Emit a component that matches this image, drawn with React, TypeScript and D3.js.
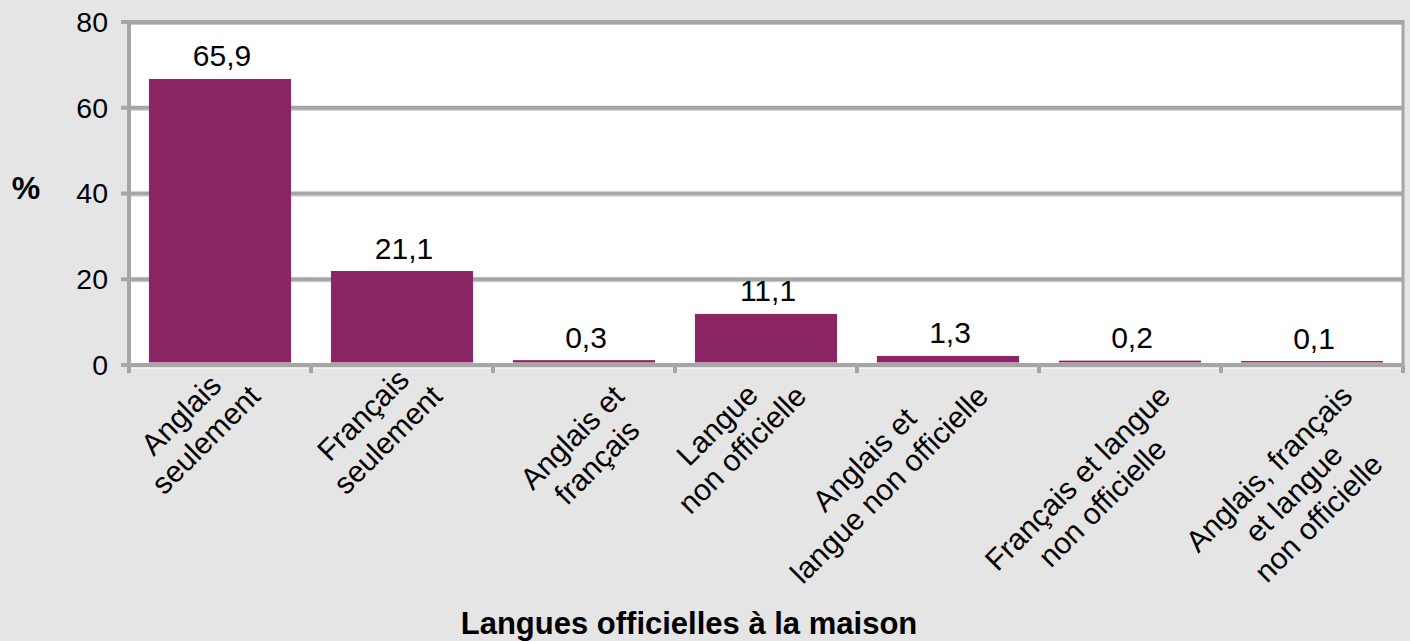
import * as React from 'react';
import * as d3 from 'd3';

// categories (each entry = lines of the wrapped label)
const categories: string[][] = [
    ['Anglais', 'seulement'],
    ['Français', 'seulement'],
    ['Anglais et', 'français'],
    ['Langue', 'non officielle'],
    ['Anglais et', 'langue non officielle'],
    ['Français et langue', 'non officielle'],
    ['Anglais, français', 'et langue', 'non officielle'],
];
const values: number[] = [65.9, 21.1, 0.3, 11.1, 1.3, 0.2, 0.1];
const yTicks: number[] = [0, 20, 40, 60, 80];
const yLabel = '%';
const xTitle = 'Langues officielles à la maison';

const W = 1410;
const H = 641;
const FONT = '"Liberation Sans", Arial, Helvetica, sans-serif';

export default function App() {
    const ref = React.useRef<SVGSVGElement>(null);

    React.useEffect(() => {
        const svg = d3.select(ref.current);
        svg.selectAll('*').remove();

        const left = 129, right = 1403, top = 22, bottom = 365;
        const grid = '#a6a6a6';
        const fr = d3.formatLocale({ decimal: ',', thousands: ' ', grouping: [3], currency: ['', ''] });
        const fmt = fr.format('.1f');

        const x = d3.scaleBand<number>()
            .domain(d3.range(categories.length))
            .range([left, right])
            .paddingInner(0.219)
            .paddingOuter(0.1095);
        const y = d3.scaleLinear().domain([0, 80]).range([bottom, top]);

        svg.append('rect').attr('width', W).attr('height', H).attr('fill', '#e5e5e5');
        svg.append('rect')
            .attr('x', left).attr('y', top)
            .attr('width', right - left).attr('height', bottom - top)
            .attr('fill', '#fff');

        // gridlines (grey with a lighter lower edge)
        const gl = svg.append('g');
        gl.selectAll('line.lo')
            .data(yTicks.filter(t => t > 0))
            .join('line')
            .attr('class', 'lo')
            .attr('x1', left).attr('x2', right)
            .attr('y1', d => y(d) + 2.5).attr('y2', d => y(d) + 2.5)
            .attr('stroke', '#c8c8c8').attr('stroke-width', 1);
        gl.selectAll('line.hi')
            .data(yTicks.filter(t => t > 0))
            .join('line')
            .attr('class', 'hi')
            .attr('x1', left).attr('x2', right)
            .attr('y1', d => y(d)).attr('y2', d => y(d))
            .attr('stroke', grid).attr('stroke-width', 4);

        // right border
        svg.append('line')
            .attr('x1', right).attr('x2', right).attr('y1', top - 2).attr('y2', bottom)
            .attr('stroke', grid).attr('stroke-width', 3);

        // bars
        const barOff = 3;
        svg.append('g').selectAll('rect')
            .data(values)
            .join('rect')
            .attr('x', (d, i) => (x(i) as number) + 0.5)
            .attr('y', d => y(d) - barOff)
            .attr('width', x.bandwidth() - 1)
            .attr('height', d => y(0) - y(d))
            .attr('fill', '#8a2463')
            .attr('stroke', '#8a2463')
            .attr('stroke-width', 1);

        // value labels
        svg.append('g').selectAll('text')
            .data(values)
            .join('text')
            .attr('x', (d, i) => (x(i) as number) + x.bandwidth() / 2 + 2)
            .attr('y', d => y(d) - barOff - 13)
            .attr('text-anchor', 'middle')
            .attr('font-family', FONT)
            .attr('font-size', 30)
            .attr('fill', '#000')
            .text(d => fmt(d));

        // y axis line + ticks
        svg.append('line')
            .attr('x1', left).attr('x2', left).attr('y1', top - 2).attr('y2', bottom + 2)
            .attr('stroke', grid).attr('stroke-width', 4);
        const yAxis = svg.append('g');
        yAxis.selectAll('line')
            .data(yTicks)
            .join('line')
            .attr('x1', left - 8).attr('x2', left)
            .attr('y1', d => y(d)).attr('y2', d => y(d))
            .attr('stroke', grid).attr('stroke-width', 4);
        yAxis.selectAll('text')
            .data(yTicks)
            .join('text')
            .attr('x', 108)
            .attr('y', d => y(d))
            .attr('dy', '0.35em')
            .attr('text-anchor', 'end')
            .attr('font-family', FONT)
            .attr('font-size', 28.5)
            .text(d => String(d));

        // x axis line + ticks
        svg.append('line')
            .attr('x1', left - 8).attr('x2', right + 1).attr('y1', bottom).attr('y2', bottom)
            .attr('stroke', grid).attr('stroke-width', 4);
        svg.append('line')
            .attr('x1', left).attr('x2', right).attr('y1', bottom + 3.5).attr('y2', bottom + 3.5)
            .attr('stroke', '#f4f4f4').attr('stroke-width', 1);
        const bounds = d3.range(categories.length + 1).map(i => left + i * x.step());
        svg.append('g').selectAll('line')
            .data(bounds)
            .join('line')
            .attr('x1', d => d).attr('x2', d => d)
            .attr('y1', bottom).attr('y2', bottom + 8)
            .attr('stroke', grid).attr('stroke-width', 4);

        // rotated category labels: right end of the longest line anchored near the category
        const lh = 35;
        categories.forEach((lines, i) => {
            const cx = (x(i) as number) + x.bandwidth() / 2;
            const g = svg.append('g');
            const texts = g.selectAll('text')
                .data(lines)
                .join('text')
                .attr('font-family', FONT)
                .attr('font-size', 30)
                .attr('text-anchor', 'middle')
                .text(d => d);
            const widths = texts.nodes().map(n => (n as SVGTextElement).getComputedTextLength());
            const maxW = d3.max(widths) as number;
            const k = widths.indexOf(maxW);
            texts.attr('x', -maxW / 2).attr('y', (d, j) => (j - k) * lh);
            g.attr('transform', `translate(${cx + 42},${bottom + 33}) rotate(-45)`);
        });

        // axis titles
        svg.append('text')
            .attr('x', 26).attr('y', 188).attr('dy', '0.35em')
            .attr('text-anchor', 'middle')
            .attr('font-family', FONT).attr('font-size', 32).attr('font-weight', 'bold')
            .text(yLabel);
        svg.append('text')
            .attr('x', 689).attr('y', 634)
            .attr('text-anchor', 'middle')
            .attr('font-family', FONT).attr('font-size', 31).attr('font-weight', 'bold')
            .text(xTitle);
    }, []);

    return (
        <svg ref={ref} width={W} height={H}
            style={{ position: 'absolute', left: 0, top: 0, display: 'block' }} />
    );
}
